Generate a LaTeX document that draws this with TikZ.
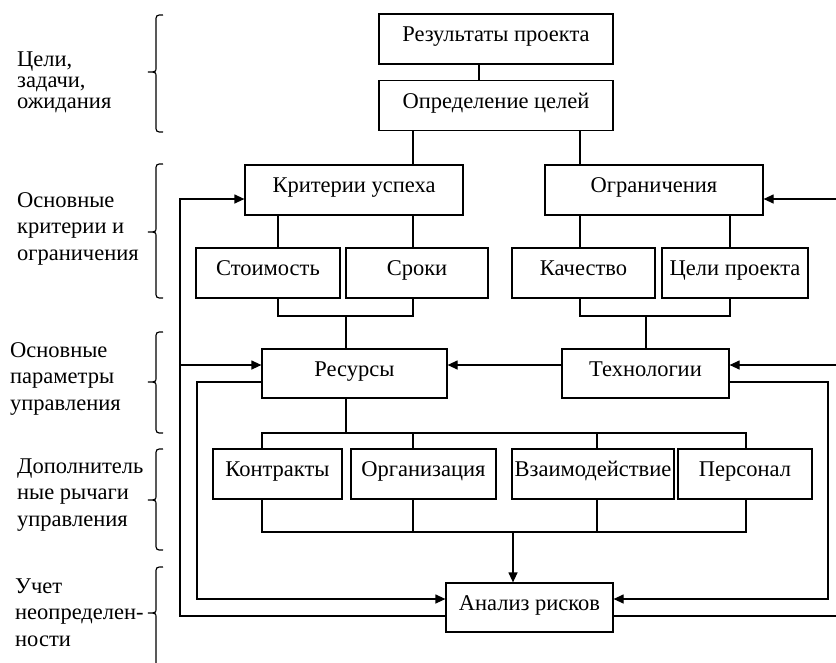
\documentclass[tikz,border=0pt]{standalone}
\usepackage{fontspec}
\setmainfont{Liberation Serif}
\usetikzlibrary{arrows.meta, positioning, calc}

\tikzset{
  blk/.style={draw, line width=1.2pt, minimum height=50pt, inner sep=1pt, text height=1.5ex, text depth=0.3ex, font=\fontsize{22.5}{26}\selectfont},
  ln/.style={line width=1.2pt},
  arr/.style={ln, -{Triangle[length=10pt, width=9pt]}},
  lbl/.style={anchor=west, align=left, inner sep=0pt, font=\fontsize{22.5}{26.5}\selectfont}
}

\begin{document}
\begin{tikzpicture}[x=1pt, y=-1pt]
        \clip (0,0) rectangle (836,662);

        \node[blk, minimum width=234pt] (rez) at (496,39) {Результаты проекта};
        \node[blk, minimum width=234pt] (def) at (496,105.5) {Определение целей};

        \node[blk, minimum width=218pt] (krit) at (354,190) {Критерии успеха};
        \node[blk, minimum width=218pt] (ogr) at (654,190) {Ограничения};

        \node[blk, minimum width=144pt] (cost) at (268,273) {Стоимость};
        \node[blk, minimum width=142pt] (srok) at (417,273) {Сроки};
        \node[blk, minimum width=143pt] (kach) at (583.5,273) {Качество};
        \node[blk, minimum width=146pt] (celi) at (735,273) {Цели проекта};

        \node[blk, minimum width=185pt, minimum height=49pt] (resu) at (354.5,373.5) {Ресурсы};
        \node[blk, minimum width=167pt, minimum height=49pt] (tech) at (645.5,373.5) {Технологии};

        \node[blk, minimum width=129pt] (kontr) at (277.5,474) {Контракты};
        \node[blk, minimum width=145pt] (org) at (423.5,474) {Организация};
        \node[blk, minimum width=162pt] (vzaim) at (593,474) {Взаимодействие};
        \node[blk, minimum width=134pt] (pers) at (745,474) {Персонал};

        \node[blk, minimum width=167pt, minimum height=49pt] (risk) at (529.5,607.5) {Анализ рисков};

        % labels on the left
        \node[lbl, font=\fontsize{22.5}{21}\selectfont] (l1) at (17,82.5) {Цели,\\задачи,\\ожидания};
        \node[lbl] (l2) at (17,228.5) {Основные\\критерии и\\ограничения};
        \node[lbl] (l3) at (10,378.5) {Основные\\параметры\\управления};
        \node[lbl] (l4) at (17,495) {Дополнитель\\ные рычаги\\управления};
        \node[lbl] (l5) at (15,612.5) {Учет\\неопределен-\\ности};

        \foreach \ya/\ym/\yb in {15/72/132, 164/232/298, 332/382/433, 449/500/550, 567/613/700}
          \draw[ln] (163,\ya) .. controls (156,\ya) .. (156,\ya+7) -- (156,\ym-5)
            .. controls (156,\ym) .. (148,\ym) .. controls (156,\ym) .. (156,\ym+5)
            -- (156,\yb-7) .. controls (156,\yb) .. (163,\yb);

        \coordinate (jA) at (346,316);
        \coordinate (jB) at (646,316);
        \coordinate (jC) at (346,433);
        \coordinate (jD) at (513,532);
        \coordinate (lo) at (180,365);
        \coordinate (li) at (197,450);
        \coordinate (ro) at (850,365);
        \coordinate (ri) at (828,450);

        \draw[ln] ([xshift=-17pt]rez.south) -- ([xshift=-17pt]def.north);
        \draw[ln] ([xshift=-83pt]def.south) -- ([xshift=59pt]krit.north);
        \draw[ln] ([xshift=84pt]def.south) -- ([xshift=-74pt]ogr.north);

        \draw[ln] ([xshift=-76pt]krit.south) -- ([xshift=10pt]cost.north);
        \draw[ln] ([xshift=59pt]krit.south) -- ([xshift=-4pt]srok.north);
        \draw[ln] ([xshift=-74pt]ogr.south) -- ([xshift=-3.5pt]kach.north);
        \draw[ln] ([xshift=76pt]ogr.south) -- ([xshift=-5pt]celi.north);

        \draw[ln] ([xshift=10pt]cost.south) |- (jA) -| ([xshift=-4pt]srok.south);
        \draw[ln] (jA) -- ([xshift=-8.5pt]resu.north);
        \draw[ln] ([xshift=-3.5pt]kach.south) |- (jB) -| ([xshift=-5pt]celi.south);
        \draw[ln] (jB) -- ([xshift=0.5pt]tech.north);

        \draw[arr] ([yshift=8.5pt]tech.west) -- ([yshift=8.5pt]resu.east);

        \draw[ln] ([xshift=-8.5pt]resu.south) -- (jC);
        \draw[ln] ([xshift=-15.5pt]kontr.north) |- (jC) -| ([xshift=1pt]pers.north);
        \draw[ln] ([xshift=-10.5pt]org.north) -- ++(0,-16);
        \draw[ln] ([xshift=4pt]vzaim.north) -- ++(0,-16);
        \draw[ln] ([xshift=-15.5pt]kontr.south) |- (jD) -| ([xshift=1pt]pers.south);
        \draw[ln] ([xshift=-10.5pt]org.south) -- ++(0,33);
        \draw[ln] ([xshift=4pt]vzaim.south) -- ++(0,33);
        \draw[arr] (jD) -- ([xshift=-16.5pt]risk.north);

        % feedback loops
        \draw[arr] ([yshift=-8.5pt]risk.west) -| (lo) |- ([yshift=-9pt]krit.west);
        \draw[arr] (lo) -- ([yshift=8.5pt]resu.west);
        \draw[arr] ([yshift=-8.5pt]resu.west) -| (li) |- ([yshift=8.5pt]risk.west);
        \draw[arr] ([yshift=-8.5pt]risk.east) -| (ro) |- ([yshift=-9pt]ogr.east);
        \draw[arr] (ro) -- ([yshift=8.5pt]tech.east);
        \draw[arr] ([yshift=-8.5pt]tech.east) -| (ri) |- ([yshift=8.5pt]risk.east);
    \end{tikzpicture}
\end{document}
